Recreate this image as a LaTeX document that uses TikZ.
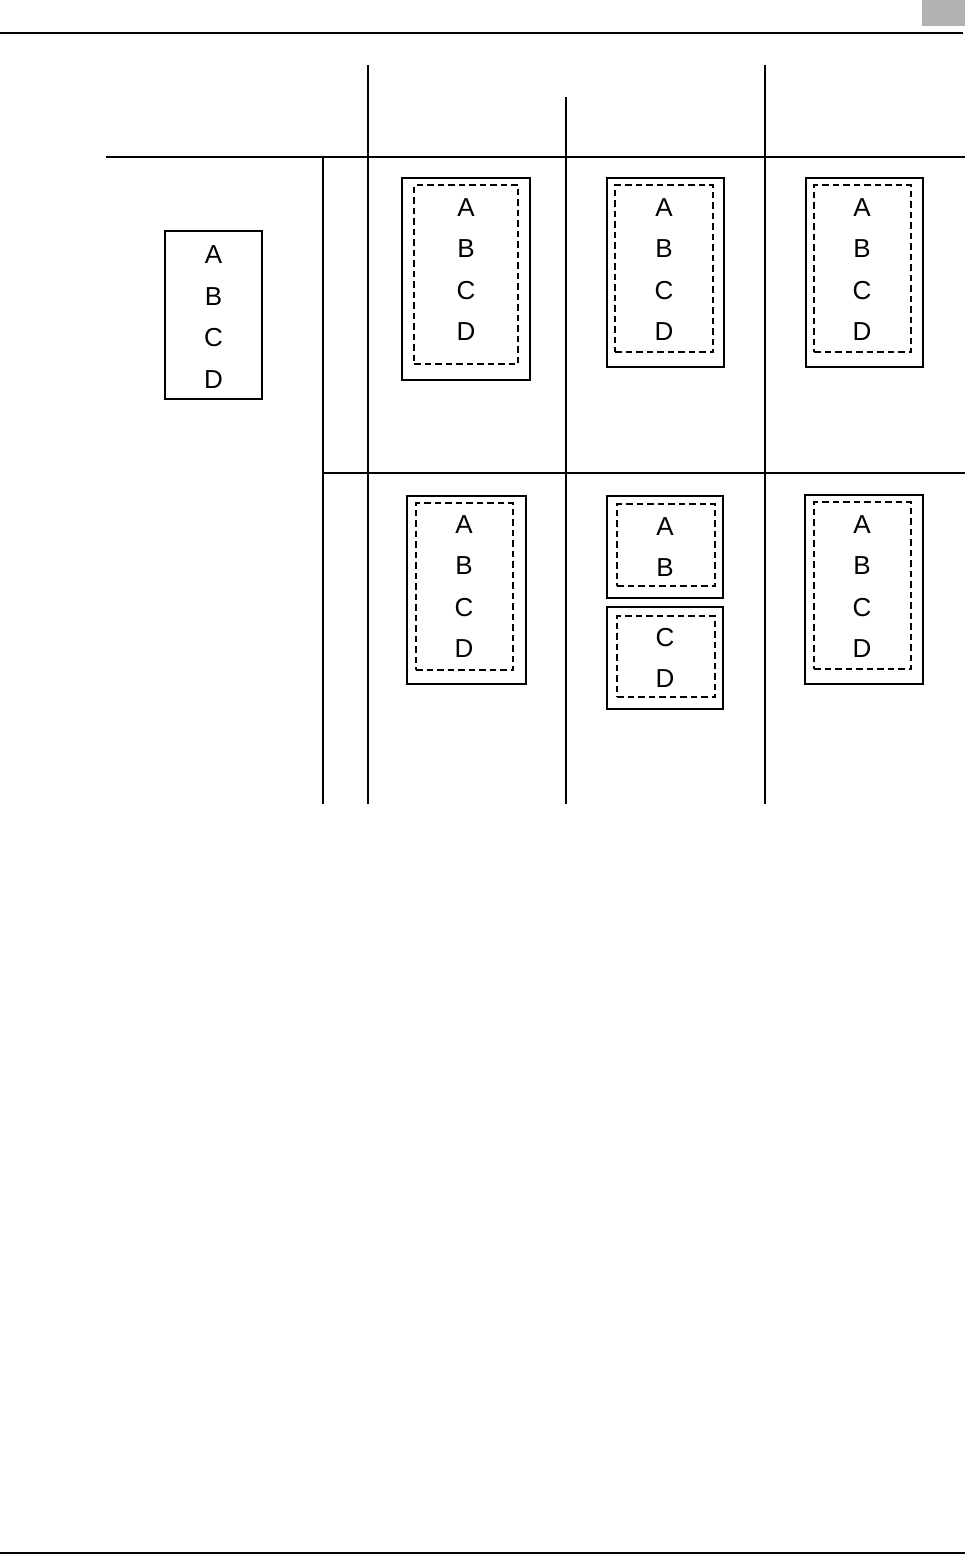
\documentclass[tikz,border=0pt]{standalone}
\usepackage{fontspec}
\setmainfont{Liberation Sans}
\usetikzlibrary{positioning}

\begin{document}
\begin{tikzpicture}[
  x=1pt, y=-1pt,
  rule/.style={line width=1.3pt},
  page/.style={draw, line width=1.15pt, inner sep=0pt},
  heavypage/.style={page, line width=2.7pt},
  printarea/.style={draw, dash pattern=on 6.5pt off 4pt, line width=1.2pt, inner sep=0pt},
  letters/.style={align=center, font=\fontsize{26}{41.5}\selectfont, inner sep=0pt}
]
\useasboundingbox (0,0) rectangle (965,1555);

% --- Page header / footer ---
\fill[gray!60] (922,0) rectangle (965,26);
\draw[rule] (0,33) -- (963,33);
\draw[rule] (0,1553) -- (965,1553);

% --- Table rules ---
\draw[rule] (106,157) -- (965,157);
\draw[rule] (322,473) -- (965,473);
\draw[rule] (323,157) -- (323,804);
\draw[rule] (368,65) -- (368,804);
\draw[rule] (566,97) -- (566,804);
\draw[rule] (765,65) -- (765,804);

% --- Original ---
\node[page, minimum width=97, minimum height=168] (orig) at (213.5,315) {};
\node[letters] (origtext) at (213.5,317) {A\\B\\C\\D};

% --- Row 1 ---
\node[heavypage, minimum width=128, minimum height=202] (p11) at (466,279) {};
\node[printarea, minimum width=104, minimum height=179] (a11) at (466,274.5) {};
\node[letters] (t11) at (466,269.5) {A\\B\\C\\D};

\node[page, minimum width=117, minimum height=189] (p12) at (665.5,272.5) {};
\node[printarea, minimum width=98, minimum height=167] (a12) at (664,268.5) {};
\node[letters] (t12) at (664,269.5) {A\\B\\C\\D};

\node[page, minimum width=117, minimum height=189] (p13) at (864.5,272.5) {};
\node[printarea, minimum width=97, minimum height=167] (a13) at (862.5,268.5) {};
\node[letters] (t13) at (862,269.5) {A\\B\\C\\D};

% --- Row 2 ---
\node[page, minimum width=119, minimum height=188] (p21) at (466.5,590) {};
\node[printarea, minimum width=97, minimum height=167] (a21) at (464.5,586.5) {};
\node[letters] (t21) at (464,586.5) {A\\B\\C\\D};

\node[page, minimum width=116, minimum height=102] (p22a) at (665,547) {};
\node[printarea, minimum width=98, minimum height=82] (a22a) at (666,545) {};
\node[letters] (t22a) at (665,547) {A\\B};
\node[page, minimum width=116, minimum height=102] (p22b) at (665,658) {};
\node[printarea, minimum width=98, minimum height=81] (a22b) at (666,656.5) {};
\node[letters] (t22b) at (665,658) {C\\D};

\node[page, minimum width=118, minimum height=189] (p23) at (864,589.5) {};
\node[printarea, minimum width=97, minimum height=167] (a23) at (862.5,585.5) {};
\node[letters] (t23) at (862,586.5) {A\\B\\C\\D};

\end{tikzpicture}
\end{document}
